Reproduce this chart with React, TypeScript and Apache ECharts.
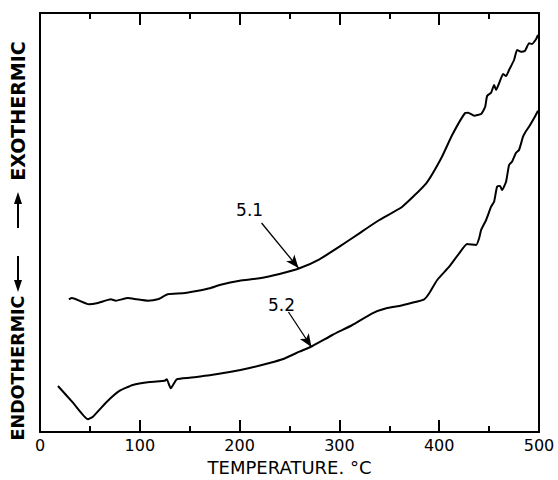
import React, { useEffect, useRef } from "react";
import * as echarts from "echarts";

// Temperature (°C) and relative heat-flow (arbitrary units)
const temp51 = [29, 32, 49, 58, 71, 76, 88, 97, 108, 118, 128, 143, 157, 170, 180, 200, 220, 240, 260, 280, 300, 320, 340, 363, 387, 402, 413, 426, 429, 435, 442, 446, 448, 452, 455, 457, 460, 464, 467, 470, 475, 478, 482, 486, 490, 493, 497, 499];
const heat51 = [132.7, 134, 127.7, 129, 132.7, 131.3, 134, 132.7, 131.3, 132.7, 137.7, 138.7, 141, 143.7, 147, 151.3, 153.7, 158, 163.7, 172.7, 185.3, 198.7, 212, 225.3, 248.7, 273.7, 297, 319, 319.3, 316.3, 318, 325, 336, 339.3, 347, 342, 348.7, 358, 356, 362, 372, 382, 380.3, 381.3, 388.7, 388, 392.7, 397];

const temp52 = [18, 33, 48, 53, 67, 80, 93, 110, 125, 127, 131, 137, 150, 170, 190, 210, 230, 243, 260, 273, 293, 313, 333, 347, 360, 372, 385, 390, 398, 410, 420, 428, 437, 440, 442, 447, 452, 455, 458, 461, 463, 467, 470, 473, 477, 480, 484, 486, 490, 495, 499];
const heat52 = [46, 29.3, 12.7, 15.3, 30.3, 41.3, 47, 50, 51.3, 52.7, 43.7, 52.7, 54.3, 56.7, 60, 64, 69, 72.7, 80.3, 86, 97, 107, 118.7, 123.7, 126, 129, 132.7, 138.7, 152, 165.3, 178.7, 188, 187, 193.7, 202, 212, 225.3, 230.3, 245.3, 246, 242, 250.3, 267, 270.3, 279.3, 282, 295.3, 299.3, 305.3, 313.7, 321.3];

// x ticks: value and whether it is a major (labelled) tick
const tickValues = [50, 100, 150, 200, 250, 300, 350, 400, 450];
const tickMajor = [0, 1, 0, 1, 0, 1, 0, 1, 0];

const Y_MAX = 419;
const MAJOR_LEN = 12; // y units (≈ 1 px each)
const MINOR_LEN = 6;

// annotation arrows: [label, labelX, labelY, startX, startY, tipX, tipY]
const label51 = ["5.1", 210, 222, 222, 209, 259, 164] as const;
const label52 = ["5.2", 242, 127, 249, 120, 272, 85] as const;

const FONT = "DejaVu Sans";

type Annot = readonly [string, number, number, number, number, number, number];

function arrowItem(a: Annot) {
  return [
    { coord: [a[3], a[4]], symbol: "none", lineStyle: { color: "#000", width: 1.3, type: "solid" } },
    { coord: [a[5], a[6]], symbol: "arrow", symbolSize: [8, 13] },
  ];
}

function tickItems() {
  const items: any[] = [];
  tickValues.forEach((v, i) => {
    const len = tickMajor[i] ? MAJOR_LEN : MINOR_LEN;
    const ls = { color: "#000", width: 2, type: "solid" };
    items.push([
      { coord: [v, 0], symbol: "none", lineStyle: ls },
      { coord: [v, len], symbol: "none" },
    ]);
    items.push([
      { coord: [v, Y_MAX], symbol: "none", lineStyle: ls },
      { coord: [v, Y_MAX - len], symbol: "none" },
    ]);
  });
  return items;
}

function annot(a: Annot, withTicks: boolean) {
  return {
    markLine: {
      silent: true,
      animation: false,
      symbol: ["none", "none"],
      lineStyle: { color: "#000", width: 1.3, type: "solid" },
      label: { show: false },
      emphasis: { disabled: true },
      data: withTicks ? [arrowItem(a), ...tickItems()] : [arrowItem(a)],
    },
    markPoint: {
      silent: true,
      animation: false,
      symbol: "circle",
      symbolSize: 1,
      itemStyle: { color: "rgba(0,0,0,0)" },
      label: { show: true, position: "inside", formatter: a[0], color: "#000", fontSize: 17, fontFamily: FONT },
      data: [{ coord: [a[1], a[2]] }],
    },
  };
}

export default function App() {
  const ref = useRef<HTMLDivElement>(null);
  useEffect(() => {
    if (!ref.current) return;
    const chart = echarts.init(ref.current, null, { renderer: "svg" });
    const xBase = {
      type: "value" as const,
      min: 0,
      max: 500,
      interval: 100,
      axisLine: { show: true, onZero: false, lineStyle: { color: "#000", width: 2 } },
      axisTick: { show: false },
      splitLine: { show: false },
    };
    const yCommon = {
      type: "value" as const,
      min: 0,
      max: Y_MAX,
      axisLine: { show: true, onZero: false, lineStyle: { color: "#000", width: 2 } },
      axisTick: { show: false },
      axisLabel: { show: false },
      splitLine: { show: false },
    };
    chart.setOption({
      animation: false,
      backgroundColor: "#fff",
      grid: { left: 40, right: 19, top: 13, bottom: 48, containLabel: false, outerBoundsMode: "none" },
      xAxis: [
        {
          ...xBase,
          position: "bottom",
          axisLabel: { show: true, color: "#000", fontSize: 16, fontFamily: FONT, margin: 5 },
          name: "TEMPERATURE. °C",
          nameLocation: "middle",
          nameGap: 26,
          nameTextStyle: { color: "#000", fontSize: 18, fontFamily: FONT },
        },
        { ...xBase, position: "top", axisLabel: { show: false } },
      ],
      yAxis: [
        { ...yCommon, position: "left" },
        { ...yCommon, position: "right" },
      ],
      graphic: [
        {
          type: "text",
          x: 18,
          y: 368,
          rotation: Math.PI / 2,
          style: { text: "ENDOTHERMIC", fill: "#000", font: `bold 17.5px "${FONT}"`, textAlign: "center", textVerticalAlign: "middle" },
        },
        {
          type: "text",
          x: 18,
          y: 111,
          rotation: Math.PI / 2,
          style: { text: "EXOTHERMIC", fill: "#000", font: `bold 19px "${FONT}"`, textAlign: "center", textVerticalAlign: "middle" },
        },
        { type: "line", shape: { x1: 18, y1: 256, x2: 18, y2: 282 }, style: { stroke: "#000", lineWidth: 2 } },
        { type: "polygon", shape: { points: [[14, 280], [22, 280], [18, 292]] }, style: { fill: "#000" } },
        { type: "line", shape: { x1: 18, y1: 228, x2: 18, y2: 202 }, style: { stroke: "#000", lineWidth: 2 } },
        { type: "polygon", shape: { points: [[14, 204], [22, 204], [18, 192]] }, style: { fill: "#000" } },
      ],
      series: [
        {
          name: "5.1",
          type: "line",
          data: temp51.map((t, i) => [t, heat51[i]]),
          showSymbol: false,
          smooth: 0.15,
          lineStyle: { color: "#000", width: 2 },
          silent: true,
          ...annot(label51, false),
        },
        {
          name: "5.2",
          type: "line",
          data: temp52.map((t, i) => [t, heat52[i]]),
          showSymbol: false,
          smooth: 0.15,
          lineStyle: { color: "#000", width: 2 },
          silent: true,
          ...annot(label52, true),
        },
      ],
    });
    return () => chart.dispose();
  }, []);
  return <div ref={ref} style={{ position: "fixed", left: 0, top: 0, width: 558, height: 480 }} />;
}
